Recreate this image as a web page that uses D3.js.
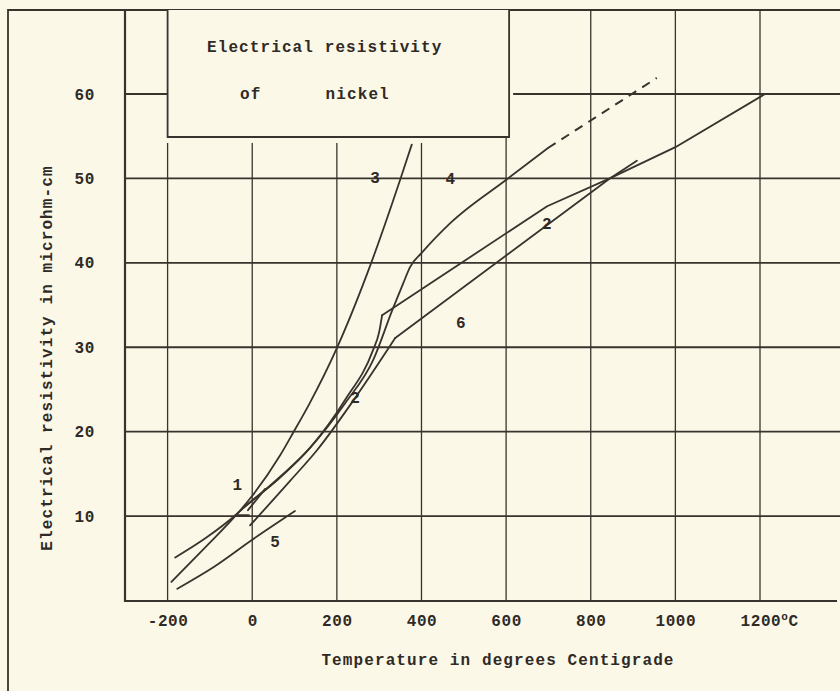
<!DOCTYPE html>
<html>
<head>
<meta charset="utf-8">
<script src="https://cdn.jsdelivr.net/npm/d3@7"></script>
<style>
  body { margin: 0; background: #fbf8e8; }
  svg { display: block; }
  text { font-family: "Liberation Mono", "Courier New", monospace; font-weight: bold; fill: #2f2a26; }
</style>
</head>
<body>
<svg id="chart" width="840" height="691"></svg>
<script>
// temperature (deg C) and resistivity (microhm-cm)
const xTicks = [-200, 0, 200, 400, 600, 800, 1000, 1200];
const yTicks = [10, 20, 30, 40, 50, 60];

const curve1 = [[-10, 10.7], [30, 13.2]];
const curve1Stub = [[-40, 10.1], [-8, 10.1]];
const curve2Low = [[-20, 11.0], [60, 14.4], [137, 18.1], [220, 23.8], [285, 29.6], [300, 31.8], [307, 33.8]];
const curve2High = [[307, 33.8], [697, 46.7], [845, 50.0], [1000, 53.7], [1212, 60.0]];
const curve3 = [[-191, 2.2], [-111, 6.3], [-33, 10.4], [0, 12.4], [66, 17.2], [97, 19.9], [135, 23.3], [200, 29.9], [279, 39.7], [350, 49.9], [377, 54.0]];
const curve4 = [[-182, 5.1], [-110, 7.4], [-33, 10.4], [-20, 11.0], [60, 14.3], [135, 18.0], [220, 23.4], [286, 28.5], [331, 34.4], [357, 37.6], [373, 39.5], [401, 41.2], [468, 44.7], [602, 49.9], [699, 53.6]];
const curve4Dash = [[699, 53.6], [956, 61.9]];
const curve5 = [[-177, 1.4], [-90, 4.0], [0, 7.2], [101, 10.6]];
const curve6Low = [[-5, 8.9], [90, 14.2], [153, 17.8], [246, 24.2], [338, 31.1]];
const curve6High = [[338, 31.1], [845, 50.0], [909, 52.1]];

const curveLabels = [
  { text: "3", T: 290, R: 50.2 },
  { text: "4", T: 468, R: 50.0 },
  { text: "2", T: 696, R: 44.7 },
  { text: "6", T: 493, R: 33.0 },
  { text: "2", T: 243, R: 24.1 },
  { text: "1", T: -35, R: 13.8 },
  { text: "5", T: 54, R: 7.0 }
];

const W = 840, H = 691;
const ink = "#3a322c";
const bg = "#fbf8e8";

const svg = d3.select("#chart");
svg.append("rect").attr("width", W).attr("height", H).attr("fill", bg);

const x = d3.scaleLinear().domain([-200, 1200]).range([167.6, 760]);
const y = d3.scaleLinear().domain([0, 60]).range([600.5, 94]);

const frameTop = 10, axisLeft = 125, axisBottom = 601;
const box = { x0: x(-200), x1: x(600) + 3, y0: frameTop, y1: 137 };

// outer frame and axes
svg.append("path")
  .attr("d", `M8,${H} V${frameTop} H${W}`)
  .attr("fill", "none").attr("stroke", ink).attr("stroke-width", 1.8);
svg.append("path")
  .attr("d", `M${axisLeft},${frameTop} V${axisBottom} H837`)
  .attr("fill", "none").attr("stroke", ink).attr("stroke-width", 2.2);

// horizontal grid, the 60 line is broken by the title box
const grid = svg.append("g").attr("stroke", ink).attr("fill", "none");
yTicks.forEach(v => {
  const yy = y(v);
  const spans = v === 60 ? [[axisLeft, box.x0], [box.x1 + 4, W]] : [[axisLeft, W]];
  spans.forEach(s => {
    grid.append("line")
      .attr("x1", s[0]).attr("x2", s[1])
      .attr("y1", yy).attr("y2", yy)
      .attr("stroke-width", 1.8);
  });
});

// vertical grid
xTicks.forEach(v => {
  let top = frameTop;
  if (v <= 400) top = box.y1 + 6;
  else if (v === 600) top = box.y1;
  grid.append("line")
    .attr("x1", x(v)).attr("x2", x(v))
    .attr("y1", top).attr("y2", axisBottom)
    .attr("stroke-width", 1.3);
});

// title box
svg.append("path")
  .attr("d", `M${box.x0},${box.y0} V${box.y1} H${box.x1} V${box.y0}`)
  .attr("fill", bg).attr("stroke", ink).attr("stroke-width", 1.8);

const titleText = (s, tx, ty) => svg.append("text")
  .attr("x", tx).attr("y", ty)
  .attr("font-size", 16).attr("letter-spacing", 1.1)
  .style("white-space", "pre")
  .text(s);
titleText("Electrical resistivity", 207, 52);
titleText("of      nickel", 240, 99);

// axes labels via d3 axes
const xAxis = svg.append("g")
  .attr("transform", `translate(0,${axisBottom})`)
  .call(d3.axisBottom(x).tickValues(xTicks).tickSize(0).tickPadding(14).tickFormat(d => d === -200 ? "-200" : d));
xAxis.select(".domain").remove();
xAxis.selectAll("text")
  .attr("font-size", 16).attr("letter-spacing", 0.6)
  .style("font-family", "'Liberation Mono', monospace")
  .style("font-weight", "bold")
  .attr("fill", "#2f2a26");
xAxis.selectAll(".tick").filter(d => d === 1200).select("text")
  .attr("text-anchor", "start").attr("x", -20)
  .append("tspan").attr("font-size", 11).attr("dy", -6).text("o")
  .select(function() { return this.parentNode; })
  .append("tspan").attr("dy", 6).text("C");

const yAxis = svg.append("g")
  .attr("transform", `translate(95,0)`)
  .call(d3.axisLeft(y).tickValues(yTicks).tickSize(0).tickPadding(0));
yAxis.select(".domain").remove();
yAxis.selectAll("text")
  .attr("font-size", 16).attr("letter-spacing", 0.6)
  .style("font-family", "'Liberation Mono', monospace")
  .style("font-weight", "bold")
  .attr("fill", "#2f2a26");

svg.append("text")
  .attr("x", 498).attr("y", 665)
  .attr("text-anchor", "middle")
  .attr("font-size", 16).attr("letter-spacing", 1.1)
  .text("Temperature in degrees Centigrade");

svg.append("text")
  .attr("transform", "translate(52,358) rotate(-90)")
  .attr("text-anchor", "middle")
  .attr("font-size", 16).attr("letter-spacing", 1.1)
  .text("Electrical resistivity in microhm-cm");

// curves
const smooth = d3.line().x(d => x(d[0])).y(d => y(d[1])).curve(d3.curveMonotoneX);
const straight = d3.line().x(d => x(d[0])).y(d => y(d[1]));

const curves = svg.append("g").attr("fill", "none").attr("stroke", ink)
  .attr("stroke-linecap", "round").attr("stroke-linejoin", "round");

[curve3, curve4, curve5, curve2Low, curve6Low].forEach(c => {
  curves.append("path").attr("d", smooth(c)).attr("stroke-width", 1.8);
});
[curve1, curve1Stub, curve2High, curve6High].forEach(c => {
  curves.append("path").attr("d", straight(c)).attr("stroke-width", 1.8);
});
curves.append("path").attr("d", straight(curve4Dash))
  .attr("stroke-width", 2).attr("stroke-dasharray", "9,7").attr("stroke-linecap", "butt");

svg.append("g").selectAll("text").data(curveLabels).join("text")
  .attr("x", d => x(d.T)).attr("y", d => y(d.R) + 6)
  .attr("text-anchor", "middle")
  .attr("font-size", 16)
  .text(d => d.text);
</script>
</body>
</html>
